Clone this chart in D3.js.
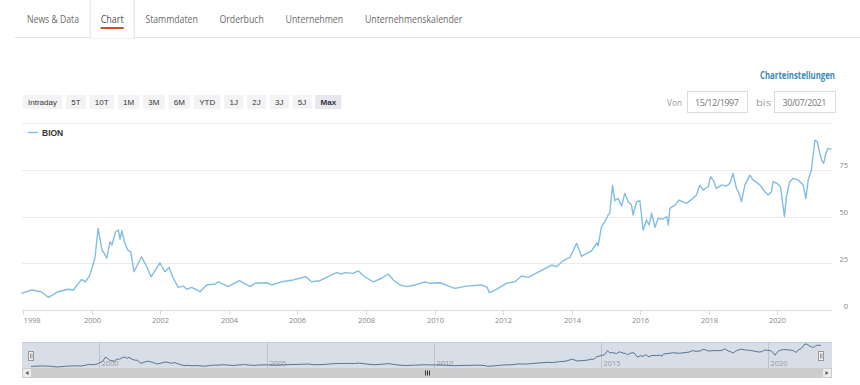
<!DOCTYPE html>
<html>
<head>
<meta charset="utf-8">
<script src="https://cdn.jsdelivr.net/npm/d3@7"></script>
<style>
body { margin: 0; background: #fff; }
svg { display: block; }
</style>
</head>
<body>
<svg width="860" height="385"></svg>
<script>
// BION closing prices
var dates = [
    "1997-12-15","1998-04-01","1998-07-10","1998-09-28","1999-01-10","1999-04-25","1999-06-20","1999-09-15",
    "1999-10-25","1999-12-10","2000-02-05","2000-03-10","2000-04-20","2000-05-15","2000-06-10","2000-07-15",
    "2000-08-05","2000-09-12","2000-10-12","2000-10-30","2000-11-18","2000-12-20","2001-01-20","2001-02-20",
    "2001-03-28","2001-06-15","2001-08-10","2001-09-25","2001-12-28","2002-02-20","2002-04-05","2002-05-20",
    "2002-07-12","2002-09-03","2002-10-10","2002-12-01","2003-03-01","2003-05-10","2003-08-08","2003-09-10",
    "2003-12-27","2004-04-22","2004-08-15","2004-10-06","2005-02-08","2005-04-01","2005-07-17","2005-11-18",
    "2006-04-01","2006-06-01","2006-08-28","2006-11-08","2007-02-23","2007-04-16","2007-05-22","2007-08-18",
    "2007-10-11","2007-12-20","2008-03-18","2008-06-16","2008-08-26","2008-10-19","2008-12-28","2009-03-10",
    "2009-06-06","2009-09-21","2009-11-13","2010-02-28","2010-06-14","2010-08-05","2010-12-08","2011-05-16",
    "2011-07-15","2011-08-08","2011-10-22","2012-02-05","2012-05-05","2012-07-17","2012-09-25","2012-12-05",
    "2013-03-05","2013-06-01","2013-07-24","2013-10-02","2013-12-13","2014-02-22","2014-04-15","2014-06-08",
    "2014-07-30","2014-09-24","2014-10-09","2014-11-14","2014-12-20","2015-01-24","2015-02-10","2015-03-12",
    "2015-04-05","2015-05-10","2015-06-16","2015-07-20","2015-08-25","2015-09-30","2015-10-16","2015-11-22",
    "2015-12-28","2016-02-01","2016-03-08","2016-04-05","2016-05-01","2016-06-06","2016-07-10","2016-08-26",
    "2016-10-08","2016-10-26","2016-11-11","2017-01-05","2017-02-18","2017-05-08","2017-07-16","2017-08-22",
    "2017-09-27","2017-11-01","2017-12-24","2018-01-19","2018-02-16","2018-03-21","2018-05-14","2018-07-08",
    "2018-08-12","2018-09-16","2018-10-22","2018-11-18","2018-12-14","2019-01-19","2019-02-24","2019-03-14",
    "2019-04-17","2019-06-10","2019-07-16","2019-08-20","2019-09-24","2019-10-30","2019-11-16","2019-12-28",
    "2020-02-03","2020-03-16","2020-04-06","2020-05-11","2020-06-17","2020-08-09","2020-10-01","2020-10-30",
    "2020-11-24","2020-12-28","2021-02-03","2021-03-01","2021-03-23","2021-04-16","2021-05-08","2021-05-30",
    "2021-06-24","2021-07-30"
];
var closes = [
    8.9,10.7,9.8,6.8,9.8,11.1,10.7,16.4,
    15.1,18.2,27.7,43.7,32.1,30.3,27.7,36.6,
    34.8,41.9,42.8,37.8,42.5,35.7,32.1,31.2,
    20.5,28.5,23.2,17.8,25.3,20.5,22.8,17.0,
    12.1,12.8,11.1,12.1,9.8,13.4,13.9,15.1,
    12.5,15.7,12.5,14.3,14.6,13.4,15.1,16.1,
    17.8,15.1,15.7,17.5,20.0,19.3,20.0,19.6,
    21.0,17.8,15.1,17.0,19.3,16.1,13.4,12.5,
    13.4,15.1,14.3,14.6,12.5,11.6,12.8,13.4,
    12.1,9.3,11.1,14.3,15.1,18.2,17.5,19.3,
    21.8,24.1,23.2,26.4,28.2,35.7,28.7,30.3,
    31.6,36.0,34.3,44.6,47.3,50.9,51.8,66.9,
    58.5,59.8,55.7,62.5,58.0,56.2,50.9,58.0,
    58.5,42.8,48.2,45.5,51.8,44.3,49.1,48.6,
    50.0,45.5,54.4,56.2,58.9,57.1,59.8,61.6,
    66.9,64.2,66.0,71.4,69.6,65.1,66.9,66.4,
    67.8,73.2,65.1,62.5,58.0,66.9,70.5,72.3,
    69.6,67.8,66.0,63.3,61.6,63.3,68.7,67.8,
    66.0,50.0,60.7,68.7,70.5,69.6,66.9,59.8,
    69.6,75.0,91.0,90.1,84.7,80.3,78.5,83.9,
    86.6,86.0
];
var yearTicks = [1998, 2000, 2002, 2004, 2006, 2008, 2010, 2012, 2014, 2016, 2018, 2020];
var valueTicks = [0, 25, 50, 75, 100];
var navYears = [2000, 2005, 2010, 2015, 2020];
var tabs = ["News & Data", "Chart", "Stammdaten", "Orderbuch", "Unternehmen", "Unternehmenskalender"];
var ranges = ["Intraday", "5T", "10T", "1M", "3M", "6M", "YTD", "1J", "2J", "3J", "5J", "Max"];
var seriesName = "BION";
var fromDate = "15/12/1997";
var toDate = "30/07/2021";

var svg = d3.select("svg");
var parse = d3.timeParse("%Y-%m-%d");
var data = dates.map(function (d, i) { return { date: parse(d), value: closes[i] }; });

var uiFont = "'Open Sans', 'Noto Sans', sans-serif";
var btnFont = "'Liberation Sans', Arial, sans-serif";

// ---- tabs ----
svg.append("line").attr("x1", 15).attr("x2", 860).attr("y1", 37.5).attr("y2", 37.5)
    .style("stroke", "#e2e2e2");
var tabWidths = [52, 23, 52.4, 44.3, 57.7, 97.4];
var tx = 27;
tabs.forEach(function (t, i) {
    if (t == "Chart") {
        svg.append("rect").attr("x", tx - 10.5).attr("y", -1).attr("width", tabWidths[i] + 21).attr("height", 39)
            .style("fill", "#fff").style("stroke", "#e2e2e2");
        svg.append("line").attr("x1", tx - 10).attr("x2", tx + tabWidths[i] + 10).attr("y1", 37.5).attr("y2", 37.5)
            .style("stroke", "#fff").style("stroke-width", 1.5);
        svg.append("rect").attr("x", tx).attr("y", 27).attr("width", tabWidths[i]).attr("height", 2)
            .style("fill", "#c9512c");
    }
    svg.append("text").attr("x", tx).attr("y", 23)
        .attr("textLength", tabWidths[i]).attr("lengthAdjust", "spacingAndGlyphs")
        .style("font-family", uiFont).style("font-size", "11px")
        .style("fill", t == "Chart" ? "#555" : "#6b6b6b")
        .text(t);
    tx += tabWidths[i] + 21.7;
});

// ---- settings link + date inputs ----
svg.append("text").attr("x", 835).attr("y", 78.5).attr("text-anchor", "end")
    .attr("textLength", 75).attr("lengthAdjust", "spacingAndGlyphs")
    .style("font-family", uiFont).style("font-size", "10px").style("font-weight", "bold")
    .style("fill", "#3f89b6").text("Charteinstellungen");

function dateBox(label, lx, bx, bw, value) {
    svg.append("text").attr("x", lx).attr("y", 106)
        .attr("textLength", 15).attr("lengthAdjust", "spacingAndGlyphs")
        .style("font-family", uiFont).style("font-size", "9.5px").style("fill", "#999").text(label);
    svg.append("rect").attr("x", bx + 0.5).attr("y", 91.5).attr("width", bw).attr("height", 21)
        .style("fill", "#fff").style("stroke", "#dcdcdc");
    svg.append("text").attr("x", bx + bw / 2).attr("y", 106).attr("text-anchor", "middle")
        .attr("textLength", 44).attr("lengthAdjust", "spacing")
        .style("font-family", uiFont).style("font-size", "9px").style("fill", "#777").text(value);
}
dateBox("Von", 667, 687, 60, fromDate);
dateBox("bis", 756, 774, 61, toDate);

// ---- range buttons ----
var bx = 22.7;
ranges.forEach(function (r) {
    var last = r == "Max";
    var g = svg.append("g");
    var txt = g.append("text").attr("y", 105)
        .style("font-family", btnFont).style("font-size", "8px")
        .style("font-weight", last ? "bold" : "normal")
        .style("fill", "#333").text(r);
    var w = txt.node().getComputedTextLength() + 10.6;
    txt.attr("x", bx + w / 2).attr("text-anchor", "middle");
    g.insert("rect", "text").attr("x", bx).attr("y", 95).attr("width", w).attr("height", 14)
        .style("fill", last ? "#e6e7ef" : "#f3f3f5");
    bx += w + 3.7;
});

// ---- main plot ----
var x = d3.scaleTime().domain(d3.extent(data, function (d) { return d.date; })).range([21.5, 831.5]);
var y = d3.scaleLinear().domain([0, 100]).range([310, 123.3]);

svg.append("g").selectAll("line").data(valueTicks).enter().append("line")
    .attr("x1", 22).attr("x2", 832)
    .attr("y1", function (d) { return Math.round(y(d)) + 0.5; })
    .attr("y2", function (d) { return Math.round(y(d)) + 0.5; })
    .style("stroke", "#ebebeb");

svg.append("g").selectAll("text").data(valueTicks.filter(function (d) { return d < 100; })).enter().append("text")
    .attr("x", 848).attr("y", function (d) { return y(d) - 1.5; })
    .attr("text-anchor", "end")
    .style("font-family", uiFont).style("font-size", "7.5px").style("fill", "#888")
    .text(function (d) { return d; });

// x axis
var xAxis = svg.append("g");
xAxis.append("line").attr("x1", 22).attr("x2", 832).attr("y1", 310.5).attr("y2", 310.5)
    .style("stroke", "#d6dbe4");
var yt = xAxis.selectAll("g").data(yearTicks).enter().append("g")
    .attr("transform", function (d) { return "translate(" + (Math.round(x(new Date(d, 0, 1))) + 0.5) + ",0)"; });
yt.append("line").attr("y1", 310).attr("y2", 315).style("stroke", "#d6dbe4");
yt.append("text").attr("y", 322.5)
    .attr("text-anchor", function (d, i) { return i == 0 ? "start" : "middle"; })
    .style("font-family", uiFont).style("font-size", "7.5px").style("fill", "#888")
    .text(function (d) { return d; });

var line = d3.line()
    .x(function (d) { return x(d.date); })
    .y(function (d) { return y(d.value); });

svg.append("path").datum(data).attr("d", line)
    .style("fill", "none").style("stroke", "#82bde4").style("stroke-width", 1.4)
    .style("stroke-linejoin", "round");

// legend
svg.append("line").attr("x1", 28).attr("x2", 38).attr("y1", 132.5).attr("y2", 132.5)
    .style("stroke", "#82bde4").style("stroke-width", 1.4);
svg.append("text").attr("x", 42).attr("y", 135.5)
    .style("font-family", btnFont).style("font-size", "8.5px").style("font-weight", "bold")
    .style("fill", "#333").text(seriesName);

// ---- navigator ----
var nx = d3.scaleTime().domain(x.domain()).range([31, 821]);
var ny = d3.scaleLinear().domain(d3.extent(closes)).range([367, 344]);

svg.append("rect").attr("x", 22).attr("y", 342).attr("width", 810).attr("height", 26)
    .style("fill", "#d7dee8");
svg.append("line").attr("x1", 22).attr("x2", 832).attr("y1", 342.5).attr("y2", 342.5)
    .style("stroke", "#c5ccd6");
var ng = svg.append("g").selectAll("g").data(navYears).enter().append("g")
    .attr("transform", function (d) { return "translate(" + (Math.round(nx(new Date(d, 0, 1))) + 0.5) + ",0)"; });
ng.append("line").attr("y1", 343).attr("y2", 368).style("stroke", "#bcc3cd");
ng.append("text").attr("x", 2).attr("y", 366)
    .style("font-family", uiFont).style("font-size", "7.5px").style("fill", "#999")
    .text(function (d) { return d; });

var navLine = d3.line()
    .x(function (d) { return nx(d.date); })
    .y(function (d) { return ny(d.value); });
svg.append("path").datum(data).attr("d", navLine)
    .style("fill", "none").style("stroke", "#5b7293").style("stroke-width", 1);

// handles
[31, 821].forEach(function (hx) {
    svg.append("rect").attr("x", hx - 2.5).attr("y", 351.5).attr("width", 5).attr("height", 9)
        .style("fill", "#f2f2f2").style("stroke", "#999");
    svg.append("line").attr("x1", hx - 0.5).attr("x2", hx - 0.5).attr("y1", 353.5).attr("y2", 358.5)
        .style("stroke", "#999");
    svg.append("line").attr("x1", hx + 1).attr("x2", hx + 1).attr("y1", 353.5).attr("y2", 358.5)
        .style("stroke", "#999");
});

// scrollbar
svg.append("rect").attr("x", 22).attr("y", 368).attr("width", 810).attr("height", 10)
    .style("fill", "#f2f2f2");
svg.append("rect").attr("x", 32).attr("y", 368).attr("width", 790).attr("height", 10)
    .style("fill", "#cdcdcd");
[22, 822].forEach(function (sx, i) {
    svg.append("rect").attr("x", sx + 0.5).attr("y", 368.5).attr("width", 9).attr("height", 9)
        .style("fill", "#ebebeb").style("stroke", "#cccccc");
    var c = sx + 5;
    var p = i == 0 ? "M" + (c + 1.5) + ",371 L" + (c - 1.5) + ",373 L" + (c + 1.5) + ",375 Z"
                   : "M" + (c - 1.5) + ",371 L" + (c + 1.5) + ",373 L" + (c - 1.5) + ",375 Z";
    svg.append("path").attr("d", p).style("fill", "#555");
});
[-2, 0, 2].forEach(function (o) {
    svg.append("line").attr("x1", 427 + o + 0.5).attr("x2", 427 + o + 0.5).attr("y1", 370.5).attr("y2", 375.5)
        .style("stroke", "#333");
});
</script>
</body>
</html>
